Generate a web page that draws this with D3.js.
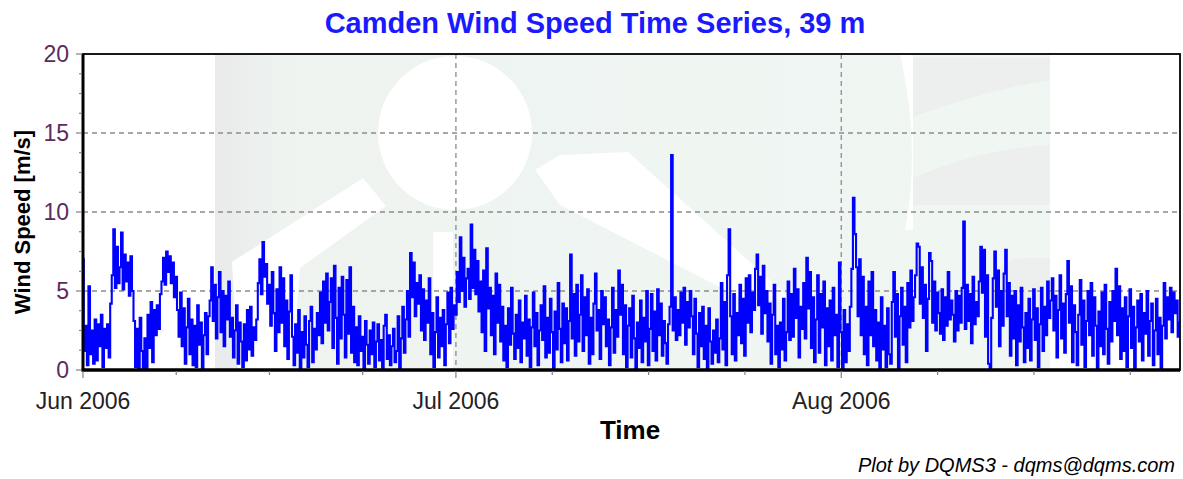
<!DOCTYPE html>
<html><head><meta charset="utf-8">
<script src="https://cdn.jsdelivr.net/npm/d3@7"></script>
<style>body{margin:0;background:#fff;}svg{display:block;}</style>
</head><body>
<svg id="chart" width="1183" height="479"></svg>
<script>
// ---- data: wind speed (m/s), one value every 3 hours from 2006-06-01 00:00 UTC ----
const startTime = "2006-06-01T00:00:00Z";
const stepHours = 3;
const juneSpeeds = [
7.0,1.2,2.8,0.3,5.3,1.0,2.5,0.4, 3.2,0.6,2.9,1.5,3.5,0.2,2.6,1.4, 2.9,0.8,4.2,6.0,8.9,5.2,7.8,5.5,
6.5,8.7,5.1,7.3,5.6,6.8,4.7,7.2, 5.0,3.1,0.2,2.6,0.1,3.3,1.2,0.0, 2.0,0.0,3.5,1.4,4.3,0.5,3.8,2.2,
4.1,2.6,4.8,5.6,7.1,5.4,7.5,6.2, 7.2,5.5,6.8,4.6,5.9,3.8,2.1,4.9, 1.5,3.9,0.4,2.7,4.5,1.0,3.2,0.3,
2.8,0.2,4.1,1.6,3.0,0.1,2.2,3.6, 1.0,3.4,4.4,6.5,3.1,5.4,2.0,4.6, 6.2,2.4,5.0,1.5,4.7,3.2,5.6,2.1,
3.3,0.8,2.5,4.1,0.4,3.0,1.8,0.2, 2.9,0.6,3.8,1.3,4.0,0.9,2.7,1.9, 3.2,5.5,7.0,4.8,8.1,5.9,6.7,4.2,
5.4,2.8,6.2,3.6,1.2,5.1,2.4,6.5, 3.0,5.8,1.5,4.4,0.7,3.7,6.0,2.1, 0.3,2.9,1.1,3.8,0.1,2.4,0.8,3.4,
1.6,0.2,3.1,4.0,0.5,2.6,1.3,3.6, 2.2,4.9,1.7,5.6,3.0,6.1,2.5,4.3, 5.8,1.4,6.6,3.3,0.4,5.2,2.0,5.9,
3.5,0.8,5.7,2.3,6.5,1.1,4.0,0.5, 2.7,0.3,3.4,1.2,2.1,0.0,3.1,1.6, 0.4,2.5,1.0,3.0,0.2,1.8,2.9,0.6,
1.9,0.1,2.8,3.5,0.7,2.2,0.3,1.5, 2.6,0.5,1.2,3.4,0.0,2.0,4.0,1.1, 3.2,5.0,2.1,7.4,4.6,6.8,3.4,5.5,
4.2,6.0,2.5,5.1,1.9,4.4,3.0,5.8, 1.0,3.6,0.2,2.4,4.6,0.8,3.3,1.5, 3.8,0.3,2.9,4.9,1.7,5.2,2.6,4.1
];
const julySpeeds = [
3.5,6.2,4.3,8.4,5.0,7.1,4.0,5.8, 6.4,4.5,9.2,5.2,7.6,4.8,6.9,3.7, 5.6,2.4,6.3,1.2,7.7,3.9,5.2,2.2,
4.7,1.0,6.1,3.0,5.4,1.8,4.0,0.6, 2.8,0.2,3.9,1.6,5.2,2.3,0.7,3.5, 1.4,4.4,0.5,3.0,2.0,4.7,0.9,3.2,
0.2,2.7,4.9,1.5,3.6,0.3,2.5,4.1, 1.9,5.3,0.8,3.3,1.1,4.5,2.4,0.1, 3.7,1.3,5.5,2.6,0.5,4.2,1.7,3.9,
0.6,3.1,7.3,2.0,4.8,0.9,5.4,1.8, 3.5,6.0,1.2,4.6,2.2,5.1,0.4,3.3, 1.0,4.2,6.1,2.5,3.8,0.7,5.0,2.9,
4.6,1.5,3.2,0.3,2.7,5.2,1.1,3.8, 2.1,6.3,3.5,5.4,1.0,4.1,0.2,2.8, 3.9,0.8,4.7,2.0,0.1,3.0,1.4,4.4,
0.5,3.3,1.8,5.0,0.3,2.6,4.8,1.2, 3.7,0.6,5.1,2.2,4.2,0.9,3.1,1.7, 0.4,2.9,4.0,13.6,2.5,4.6,1.9,3.8,
2.2,4.9,3.0,5.2,1.6,4.3,2.7,5.0, 3.4,1.0,4.5,2.3,0.2,3.6,1.5,4.0, 0.7,2.8,0.1,3.9,1.8,0.4,2.5,1.1,
3.2,0.5,2.0,5.5,1.3,4.3,0.3,6.0, 8.9,3.4,1.0,4.8,0.6,3.6,2.2,5.4, 1.7,4.5,0.9,5.8,3.0,6.0,2.4,4.9,
3.8,6.4,7.3,4.1,5.9,2.3,6.6,3.6, 5.0,1.8,4.2,0.4,3.5,5.4,1.0,2.8, 0.2,3.0,1.3,4.5,0.6,2.4,5.6,1.9,
4.8,2.1,6.4,3.3,5.1,0.8,4.0,2.6, 5.5,2.0,7.1,3.9,6.2,1.4,4.6,0.5, 3.2,6.0,1.1,4.8,2.7,5.6,0.3,3.9,
1.5,4.4,0.6,5.2,2.2,3.5,0.2,6.8
];
const augustSpeeds = [
2.4,0.1,3.8,0.5,2.9,1.2,4.0,6.4, 10.9,8.6,6.5,3.4,7.0,2.2,5.9,1.0, 4.0,0.3,5.6,2.2,6.2,1.5,3.8,0.6,
3.0,0.1,4.6,1.3,2.8,0.2,3.9,1.0, 0.4,4.3,6.2,2.1,4.8,0.0,3.4,5.2, 1.6,4.0,0.5,5.5,2.7,6.3,3.1,4.6,
6.0,8.0,7.8,4.2,6.5,3.3,5.4,1.2, 4.5,7.4,6.9,3.0,5.6,2.5,4.9,3.6, 2.3,5.1,1.9,4.6,2.8,6.2,3.2,4.4,
3.5,1.8,5.0,2.5,4.7,3.0,5.2,9.4, 2.6,5.4,3.1,4.8,1.7,5.9,2.9,4.3, 3.4,5.6,7.8,4.9,7.6,2.1,6.0,0.4,
0.1,3.3,5.8,7.5,4.0,6.3,1.5,5.0, 2.8,6.1,7.6,3.4,5.5,0.9,4.7,2.0, 5.0,0.3,4.1,1.8,5.2,2.7,0.5,3.6,
1.4,4.5,0.6,3.2,5.1,1.9,3.9,0.2, 2.9,5.2,1.2,4.0,2.2,5.6,3.3,4.4, 5.8,2.5,4.7,0.8,3.8,6.0,2.0,4.2,
1.1,4.8,6.9,3.0,5.3,0.5,4.1,2.4, 0.3,3.5,5.7,1.6,4.4,0.2,3.1,5.0, 2.2,5.5,0.9,4.6,2.8,0.1,3.7,1.5,
4.9,1.0,5.4,2.6,0.4,4.3,1.8,5.0, 3.1,6.4,2.2,5.3,0.7,3.9,1.2,4.6, 0.2,3.4,5.1,1.4,4.0,0.0,2.7,4.4,
1.8,4.8,0.6,3.6,2.3,5.0,0.9,3.1, 4.2,0.3,2.5,4.5,1.0,3.3,0.1,2.8, 5.5,2.0,4.6,3.2,5.2,2.4,4.9,3.6,
4.4,2.1,3.0
];
const yTicks = [0, 5, 10, 15, 20];
const monthTicks = ["2006-06-01", "2006-07-01", "2006-08-01", "2006-09-01"];
const monthLabels = ["Jun 2006", "Jul 2006", "Aug 2006"];
const titleText = "Camden Wind Speed Time Series, 39 m";
const yLabel = "Wind Speed [m/s]";
const xLabel = "Time";
const creditText = "Plot by DQMS3 - dqms@dqms.com";

// ---- build ----
const speeds = juneSpeeds.concat(julySpeeds, augustSpeeds);
const t0 = new Date(startTime).getTime();
const series = speeds.map((v, i) => ({t: new Date(t0 + i * stepHours * 3600e3), v}));

const svg = d3.select("#chart");
const L = 83, R = 1180, T = 54, B = 370;
const FONT = "Liberation Sans, Arial, sans-serif";
const x = d3.scaleUtc().domain([series[0].t, series[series.length - 1].t]).range([L, R]);
const y = d3.scaleLinear().domain([0, 20]).range([B, T]);

// watermark background (faint logo)
const defs = svg.append("defs");
const g1 = defs.append("linearGradient").attr("id", "wmg").attr("x1", 0).attr("x2", 1).attr("y1", 0).attr("y2", 0);
g1.append("stop").attr("offset", "0").attr("stop-color", "#e9eaea");
g1.append("stop").attr("offset", "0.08").attr("stop-color", "#eef3f0");
g1.append("stop").attr("offset", "1").attr("stop-color", "#f0f7f3");
defs.append("clipPath").attr("id", "plotclip").append("rect")
  .attr("x", L).attr("y", T).attr("width", R - L).attr("height", B - T);

const wm = svg.append("g").attr("clip-path", "url(#plotclip)");
wm.append("rect").attr("x", 215).attr("y", T).attr("width", 835).attr("height", B - T).attr("fill", "url(#wmg)");
wm.append("path").attr("fill", "#ffffff")
  .attr("d", "M900,54 C915,120 915,180 905,230 L913,230 L913,54 Z");
wm.append("path").attr("fill", "#ecefed")
  .attr("d", "M913,58 L1050,58 L1050,80 C1000,88 960,100 913,117 Z");
wm.append("path").attr("fill", "#ecefed")
  .attr("d", "M913,178 C960,158 1000,148 1050,145 L1050,205 L913,205 Z");
wm.append("path").attr("fill", "#ecefed")
  .attr("d", "M1000,275 C1000,262 1010,258 1025,258 L1050,258 L1050,320 L1000,320 Z");
wm.append("circle").attr("cx", 455).attr("cy", 133).attr("r", 77).attr("fill", "#ffffff");
wm.append("path").attr("fill", "#ffffff")
  .attr("d", "M232,262 L363,178 L386,206 L300,268 L292,370 L238,370 Z");
wm.append("path").attr("fill", "#ffffff")
  .attr("d", "M433,232 L453,232 L453,370 L433,370 Z");
wm.append("path").attr("fill", "#ffffff")
  .attr("d", "M535,170 L560,155 L628,152 L792,300 L745,300 L560,205 Z");

// grid
const grid = svg.append("g").attr("stroke", "#8c8c8c").attr("stroke-width", 1.3).attr("stroke-dasharray", "5,4");
grid.selectAll("line.h").data(yTicks.filter(d => d > 0 && d < 20)).join("line")
  .attr("x1", L).attr("x2", R).attr("y1", d => y(d)).attr("y2", d => y(d));
const monthDates = monthTicks.map(s => new Date(s + "T00:00:00Z"));
grid.selectAll("line.v").data(monthDates.slice(1, 3)).join("line")
  .attr("x1", d => x(d)).attr("x2", d => x(d)).attr("y1", T).attr("y2", B);

// series line
const line = d3.line().x(d => x(d.t)).y(d => y(d.v)).curve(d3.curveStep);
svg.append("path").datum(series).attr("clip-path", "url(#plotclip)")
  .attr("fill", "none").attr("stroke", "#0000ff").attr("stroke-width", 2.1)
  .attr("stroke-linejoin", "miter").attr("d", line);

// frame
svg.append("rect").attr("x", L).attr("y", T).attr("width", R - L).attr("height", B - T)
  .attr("fill", "none").attr("stroke", "#000").attr("stroke-width", 1.8);
svg.append("line").attr("x1", L).attr("x2", L).attr("y1", T).attr("y2", B + 1.5).attr("stroke", "#000").attr("stroke-width", 3);
svg.append("line").attr("x1", L - 1.5).attr("x2", R).attr("y1", B).attr("y2", B).attr("stroke", "#000").attr("stroke-width", 3.5);

// y axis ticks (major + minor)
const yMinor = d3.range(0, 20.01, 1.25);
svg.append("g").selectAll("line").data(yMinor).join("line")
  .attr("x1", d => (d % 5 === 0 ? L - 7 : L - 4)).attr("x2", L - 1)
  .attr("y1", d => y(d)).attr("y2", d => y(d)).attr("stroke", "#808080").attr("stroke-width", 1.2);
svg.append("g").selectAll("text").data(yTicks).join("text")
  .attr("x", L - 14).attr("y", d => y(d) + 8).attr("text-anchor", "end")
  .attr("font-family", FONT).attr("font-size", 23)
  .attr("fill", "#5e2a5e").text(d => d);

// x axis ticks: months + quarter-month minor ticks
const xMinor = [];
for (let i = 0; i < 3; i++) {
  const a = monthDates[i].getTime(), b = monthDates[i + 1].getTime();
  for (let k = 0; k < 4; k++) xMinor.push(new Date(a + (b - a) * k / 4));
}
svg.append("g").selectAll("line").data(xMinor.filter(d => x(d) <= R)).join("line")
  .attr("x1", d => x(d)).attr("x2", d => x(d)).attr("y1", B + 1).attr("y2", d => B + (d.getUTCDate() === 1 ? 8 : 5))
  .attr("stroke", "#808080").attr("stroke-width", 1.2);
svg.append("g").selectAll("text").data(monthLabels).join("text")
  .attr("x", (d, i) => x(monthDates[i])).attr("y", 409).attr("text-anchor", "middle")
  .attr("font-family", FONT).attr("font-size", 23)
  .attr("fill", "#222").text(d => d);

// titles
svg.append("text").attr("x", 595).attr("y", 33).attr("text-anchor", "middle")
  .attr("font-family", FONT).attr("font-size", 29).attr("font-weight", "bold")
  .attr("fill", "#1a1aff").text(titleText);
svg.append("text").attr("transform", "translate(30,222) rotate(-90)").attr("text-anchor", "middle")
  .attr("font-family", FONT).attr("font-size", 22).attr("font-weight", "bold")
  .attr("fill", "#000").text(yLabel);
svg.append("text").attr("x", 630).attr("y", 439).attr("text-anchor", "middle")
  .attr("font-family", FONT).attr("font-size", 26).attr("font-weight", "bold")
  .attr("fill", "#000").text(xLabel);
svg.append("text").attr("x", 1175).attr("y", 472).attr("text-anchor", "end")
  .attr("font-family", FONT).attr("font-size", 20).attr("font-style", "italic")
  .attr("fill", "#000").text(creditText);
</script>
</body></html>
